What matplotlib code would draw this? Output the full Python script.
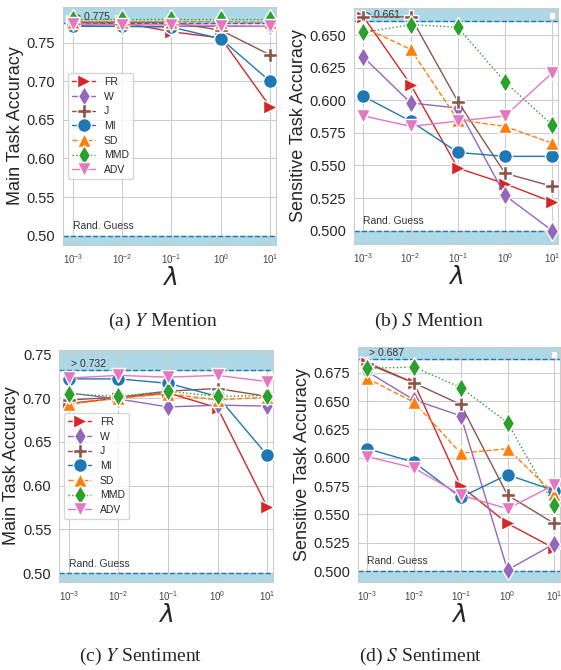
import numpy as np
import matplotlib
matplotlib.use("Agg")
import matplotlib.pyplot as plt
import seaborn as sns

sns.set_style("whitegrid")
plt.rcParams['font.family'] = ['Liberation Sans', 'DejaVu Sans']
plt.rcParams['mathtext.fontset'] = 'dejavusans'

lams = [1e-3, 1e-2, 1e-1, 1e0, 1e1]
methods = ['FR', 'W', 'J', 'MI', 'SD', 'MMD', 'ADV']

# (a) Y Mention
y_mention = {
    'FR':  [0.776, 0.776, 0.764, 0.756, 0.667],
    'W':   [0.772, 0.771, 0.771, 0.771, 0.771],
    'J':   [0.776, 0.776, 0.776, 0.766, 0.734],
    'MI':  [0.771, 0.771, 0.770, 0.755, 0.700],
    'SD':  [0.777, 0.777, 0.777, 0.777, 0.776],
    'MMD': [0.781, 0.781, 0.781, 0.781, 0.781],
    'ADV': [0.774, 0.773, 0.773, 0.772, 0.771],
}
# (b) S Mention
s_mention = {
    'FR':  [0.664, 0.612, 0.548, 0.536, 0.522],
    'W':   [0.633, 0.598, 0.594, 0.527, 0.500],
    'J':   [0.664, 0.664, 0.599, 0.544, 0.534],
    'MI':  [0.603, 0.584, 0.560, 0.557, 0.557],
    'SD':  [0.656, 0.639, 0.585, 0.580, 0.567],
    'MMD': [0.652, 0.658, 0.656, 0.614, 0.581],
    'ADV': [0.588, 0.580, 0.584, 0.588, 0.621],
}
# (c) Y Sentiment
y_sentiment = {
    'FR':  [0.694, 0.700, 0.706, 0.689, 0.576],
    'W':   [0.706, 0.699, 0.690, 0.692, 0.691],
    'J':   [0.698, 0.701, 0.708, 0.711, 0.702],
    'MI':  [0.722, 0.722, 0.717, 0.702, 0.635],
    'SD':  [0.693, 0.700, 0.705, 0.698, 0.701],
    'MMD': [0.705, 0.702, 0.708, 0.702, 0.703],
    'ADV': [0.723, 0.726, 0.724, 0.726, 0.719],
}
# (d) S Sentiment
s_sentiment = {
    'FR':  [0.684, 0.666, 0.575, 0.542, 0.520],
    'W':   [0.676, 0.651, 0.637, 0.501, 0.524],
    'J':   [0.683, 0.666, 0.647, 0.567, 0.542],
    'MI':  [0.608, 0.596, 0.565, 0.585, 0.571],
    'SD':  [0.670, 0.649, 0.604, 0.608, 0.568],
    'MMD': [0.679, 0.680, 0.662, 0.631, 0.558],
    'ADV': [0.601, 0.591, 0.567, 0.555, 0.576],
}

styles = {
    'FR':  ('tab:red', '>', '-'),
    'W':   ('tab:purple', 'd', '-'),
    'J':   ('tab:brown', 'P', '-'),
    'MI':  ('tab:blue', 'o', '-'),
    'SD':  ('tab:orange', '^', '--'),
    'MMD': ('tab:green', 'd', ':'),
    'ADV': ('tab:pink', 'v', '-'),
}

panels = [
    (y_mention, 0.775, (0.488, 0.796), np.arange(0.50, 0.76, 0.05), '%.2f',
     'Main Task Accuracy', [0.1123, 0.6343, 0.3797, 0.3552], True,
     r'(a) $Y$ Mention', (0.29, 0.505)),
    (s_mention, 0.661, (0.4898, 0.6707), np.arange(0.500, 0.651, 0.025), '%.3f',
     'Sensitive Task Accuracy', [0.631, 0.6358, 0.3636, 0.3522], False,
     r'(b) $S$ Mention', (0.765, 0.505)),
    (y_sentiment, 0.732, (0.490, 0.755), np.arange(0.50, 0.76, 0.05), '%.2f',
     'Main Task Accuracy', [0.1052, 0.1313, 0.3815, 0.3463], True,
     r'(c) $Y$ Sentiment', (0.25, 0.005)),
    (s_sentiment, 0.687, (0.4903, 0.6977), np.arange(0.500, 0.676, 0.025), '%.3f',
     'Sensitive Task Accuracy', [0.638, 0.1313, 0.36, 0.3507], False,
     r'(d) $S$ Sentiment', (0.75, 0.005)),
]

fig = plt.figure(figsize=(5.61, 6.70), dpi=100)

for data, best, ylim, yticks, fmt, ylabel, pos, show_leg, caption, cpos in panels:
    ax = fig.add_axes(pos)
    ax.set_xscale('log')
    ax.set_xlim(10 ** -3.2, 10 ** 1.12)
    ax.set_ylim(*ylim)
    ax.axhspan(best, ylim[1], color='lightblue', zorder=0.5)
    ax.axhspan(ylim[0], 0.5, color='lightblue', zorder=0.5)
    ax.axhline(best, color='tab:blue', ls='--', lw=1.0, zorder=1)
    ax.axhline(0.5, color='tab:blue', ls='--', lw=1.0, zorder=1)
    ax.text(1.1e-3, best + (ylim[1] - ylim[0]) * 0.005, '> %.3f' % best,
            fontsize=7.5, color='#333333', va='bottom', ha='left')
    ax.text(1.0e-3, 0.5 + (ylim[1] - ylim[0]) * 0.02, 'Rand. Guess',
            fontsize=7.5, color='#333333', va='bottom', ha='left')
    for m in methods:
        c, mk, ls = styles[m]
        ax.plot(lams, data[m], color=c, marker=mk, ls=ls, lw=1.0, ms=10,
                mec='white', mew=1.0, label=m, zorder=3)
    ax.set_xticks(lams)
    ax.set_xticklabels([r'$\mathdefault{10^{%d}}$' % e for e in range(-3, 2)],
                       fontsize=7, color='#444444')
    ax.minorticks_off()
    ax.set_yticks(yticks)
    ax.set_yticklabels([fmt % v for v in yticks], fontsize=10.5)
    ax.set_xlabel(r'$\lambda$', fontsize=18, labelpad=0)
    ax.set_ylabel(ylabel, fontsize=13, labelpad=2)
    ax.tick_params(axis='both', pad=2)
    if show_leg:
        ax.legend(loc='center left', bbox_to_anchor=(0.0, 0.5), fontsize=7.5,
                  markerscale=1.0, handlelength=2.2, labelspacing=0.45,
                  frameon=True)
    else:
        ax.add_patch(plt.Rectangle((0.955, 0.955), 0.03, 0.03,
                                   transform=ax.transAxes, fc='white',
                                   ec='#cccccc', lw=0.8, zorder=4))
    fig.text(cpos[0], cpos[1], caption, fontsize=14, ha='center', va='bottom',
             family='Liberation Serif', math_fontfamily='stix')

fig.savefig('out.png', dpi=100)
